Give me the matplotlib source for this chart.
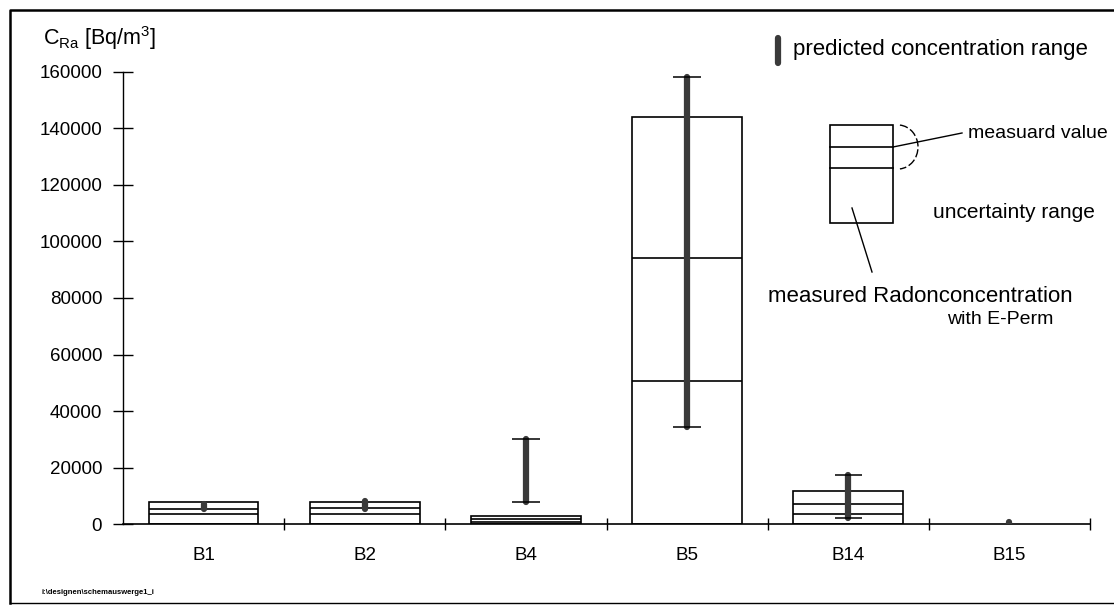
import numpy as np
import matplotlib.pyplot as plt
from matplotlib.patches import Rectangle, Arc

plt.rcParams['font.family'] = ['Liberation Sans', 'DejaVu Sans']
plt.rcParams['mathtext.fontset'] = 'custom'
plt.rcParams['mathtext.rm'] = 'Liberation Sans'

# boreholes
sites = ['B1', 'B2', 'B4', 'B5', 'B14', 'B15']

# measured radon concentration (E-Perm) with uncertainty range, Bq/m3
meas_low = [3500, 3500, 700, 50500, 3800, np.nan]
meas_value = [5500, 5800, 1800, 94000, 7100, np.nan]
meas_high = [7900, 8000, 3000, 144000, 11700, np.nan]

# predicted concentration range, Bq/m3
pred_low = [5300, 5500, 8000, 34500, 2300, 300]
pred_high = [7200, 8300, 30300, 158000, 17300, 900]

W, H = 1114, 613
fig = plt.figure(figsize=(W / 100, H / 100), dpi=100)
ax = fig.add_axes([123 / W, (H - 524.3) / H, (1090 - 123) / W, (524.3 - 71.7) / H])

x = np.arange(len(sites))
box_w = 0.68
cap_w = 0.17
for i in x:
    if not np.isnan(meas_high[i]):
        ax.add_patch(Rectangle((i - box_w / 2, 0), box_w, meas_high[i],
                               facecolor='white', edgecolor='black', lw=1.2, zorder=2))
        ax.hlines([meas_low[i], meas_value[i]], i - box_w / 2, i + box_w / 2,
                  color='black', lw=1.2, zorder=3)
    ax.plot([i, i], [pred_low[i], pred_high[i]], color='#3a3a3a', lw=4.5,
            solid_capstyle='round', zorder=4)
    if pred_high[i] - pred_low[i] > 5000:
        ax.hlines([pred_low[i], pred_high[i]], i - cap_w / 2, i + cap_w / 2,
                  color='black', lw=1.1, zorder=4)

ax.set_xlim(-0.5, len(sites) - 0.5)
ax.set_ylim(0, 160000)
ax.set_yticks(np.arange(0, 160001, 20000))
ax.set_xticks(x)
ax.set_xticklabels(sites)
ax.set_xticks(np.arange(0.5, len(sites) - 0.4, 1), minor=True)
ax.tick_params(axis='y', direction='inout', length=14, width=1, labelsize=13.5, pad=8)
ax.tick_params(axis='x', which='major', length=0, labelsize=13.5, pad=16)
ax.tick_params(axis='x', which='minor', direction='inout', length=9, width=1)
for s in ['top', 'right']:
    ax.spines[s].set_visible(False)
ax.spines['left'].set_linewidth(1.0)
ax.spines['bottom'].set_linewidth(1.2)

# overlay in pixel units for legend sketch and frame
ov = fig.add_axes([0, 0, 1, 1], facecolor='none')
ov.set_xlim(0, W)
ov.set_ylim(H, 0)
ov.axis('off')

# outer frame
ov.plot([10, 10, W + 5], [603, 10, 10], color='black', lw=1.8)
ov.plot([10, W + 5], [603, 603], color='black', lw=1.0)

ov.text(43, 38, r'C$_{\mathrm{Ra}}$ [Bq/m$^{\mathrm{3}}$]', fontsize=15.5, va='center')

ov.plot([778, 778], [38, 63], color='#3a3a3a', lw=4.5, solid_capstyle='round')
ov.text(793, 50, 'predicted concentration range', fontsize=16, va='center')

ov.add_patch(Rectangle((830, 125), 63, 98, facecolor='white', edgecolor='black', lw=1.2))
ov.plot([830, 893], [147, 147], color='black', lw=1.2)
ov.plot([830, 893], [168, 168], color='black', lw=1.2)
ov.add_patch(Arc((898, 147), 40, 44, theta1=-85, theta2=85, color='black', lw=1.0,
                 linestyle=(0, (6, 2))))
ov.plot([893, 962], [147, 133], color='black', lw=1.0)
ov.text(968, 133, 'measuard value', fontsize=14, va='center')
ov.text(933, 212, 'uncertainty range', fontsize=15, va='center')
ov.plot([852, 872], [208, 272], color='black', lw=1.0)
ov.text(920, 296, 'measured Radonconcentration', fontsize=16, va='center', ha='center')
ov.text(1000, 320, 'with E-Perm', fontsize=14, va='center', ha='center')

ov.text(42, 593, r'i:\designen\schemauswerge1_i', fontsize=5.5, va='center',
        fontweight='bold')

fig.savefig('out.png', dpi=100)
